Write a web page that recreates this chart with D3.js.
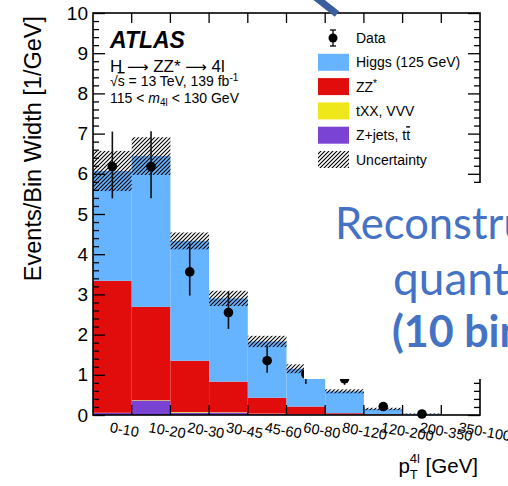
<!DOCTYPE html>
<html>
<head>
<meta charset="utf-8">
<script src="https://cdn.jsdelivr.net/npm/d3@7"></script>
<style>
  body { margin: 0; background: #fff; }
  svg text { font-family: "Liberation Sans", Arial, Helvetica, sans-serif; }
</style>
</head>
<body>
<div id="chart"></div>
<script>
// ---------------- data (per GeV)
var bins   = ["0-10", "10-20", "20-30", "30-45", "45-60", "60-80", "80-120", "120-200", "200-350", "350-1000"];
var zjets  = [0.05, 0.36, 0.06, 0.06, 0.03, 0.02, 0.01, 0.003, 0.001, 0.0];
var txx    = [0.005, 0.01, 0.015, 0.01, 0.005, 0.003, 0.002, 0.001, 0.0, 0.0];
var zz     = [3.285, 2.32, 1.275, 0.76, 0.395, 0.187, 0.033, 0.015, 0.004, 0.001];
var higgs  = [2.73, 3.75, 2.98, 2.07, 1.40, 0.94, 0.545, 0.131, 0.025, 0.002];
var unc    = [0.50, 0.47, 0.21, 0.19, 0.14, 0.11, 0.05, 0.03, 0.006, 0.001];
var obs    = [6.18, 6.18, 3.56, 2.55, 1.35, 1.02, 0.90, 0.21, 0.025, null];
var obsUp  = [0.87, 0.88, 0.71, 0.51, 0.37, 0.26, 0.16, 0.06, 0.02, 0];
var obsDn  = [0.79, 0.79, 0.59, 0.41, 0.30, 0.25, 0.15, 0.05, 0.015, 0];
var yTicks = [0, 1, 2, 3, 4, 5, 6, 7, 8, 9, 10];

var legendItems = [
    { key: "data", label: "Data" },
    { key: "higgs", label: "Higgs (125 GeV)", color: "#66b3ff" },
    { key: "zz", label: "ZZ*", color: "#e10c0c" },
    { key: "txx", label: "tXX, VVV", color: "#eee81a" },
    { key: "zjets", label: "Z+jets, tt", color: "#7a43d3" },
    { key: "unc", label: "Uncertainty" }
];
var colors = { zjets: "#7a43d3", txx: "#eee81a", zz: "#e10c0c", higgs: "#66b3ff" };

var width = 508, height = 486;
var pLeft = 93, pRight = 480, pTop = 13, pBottom = 415;

var svg = d3.select("#chart").append("svg")
    .attr("width", width).attr("height", height);

var defs = svg.append("defs");
defs.append("pattern")
    .attr("id", "hatch")
    .attr("patternUnits", "userSpaceOnUse")
    .attr("width", 4).attr("height", 4)
    .append("path")
    .attr("d", "M-1,1 l2,-2 M0,4 l4,-4 M3,5 l2,-2")
    .attr("stroke", "#000")
    .attr("stroke-width", 1.1);

var x = d3.scaleBand().domain(bins).range([pLeft, pRight]).padding(0);
var y = d3.scaleLinear().domain([0, 10]).range([pBottom, pTop]);

// ---------------- stacked histogram
var table = bins.map(function (b, i) {
    return { bin: b, zjets: zjets[i], txx: txx[i], zz: zz[i], higgs: higgs[i] };
});
var stack = d3.stack().keys(["zjets", "txx", "zz", "higgs"]);
var series = stack(table);

var plot = svg.append("g");

series.forEach(function (s) {
    plot.append("g").selectAll("rect")
        .data(s)
        .join("rect")
        .attr("x", function (d) { return x(d.data.bin); })
        .attr("width", x.bandwidth())
        .attr("y", function (d) { return y(d[1]); })
        .attr("height", function (d) { return Math.max(0, y(d[0]) - y(d[1])); })
        .attr("fill", colors[s.key]);
});

// uncertainty band
var totals = series[series.length - 1].map(function (d) { return d[1]; });
plot.append("g").selectAll("rect")
    .data(bins)
    .join("rect")
    .attr("x", function (d) { return x(d); })
    .attr("width", x.bandwidth())
    .attr("y", function (d, i) { return y(totals[i] + unc[i]); })
    .attr("height", function (d, i) { return y(totals[i] - unc[i]) - y(totals[i] + unc[i]); })
    .attr("fill", "url(#hatch)");

// data points
var pts = bins.map(function (b, i) {
    return { bin: b, v: obs[i], up: obsUp[i], dn: obsDn[i] };
}).filter(function (d) { return d.v !== null; });

plot.append("g").selectAll("line")
    .data(pts)
    .join("line")
    .attr("x1", function (d) { return x(d.bin) + x.bandwidth() / 2; })
    .attr("x2", function (d) { return x(d.bin) + x.bandwidth() / 2; })
    .attr("y1", function (d) { return y(d.v + d.up); })
    .attr("y2", function (d) { return y(d.v - d.dn); })
    .attr("stroke", "#111")
    .attr("stroke-width", 1.6);

plot.append("g").selectAll("circle")
    .data(pts)
    .join("circle")
    .attr("cx", function (d) { return x(d.bin) + x.bandwidth() / 2; })
    .attr("cy", function (d) { return y(d.v); })
    .attr("r", 4.8)
    .attr("fill", "#000");

// ---------------- axes / frame
var edges = bins.slice(1);

var yMinor = d3.range(0, 10.01, 0.2).filter(function (v) { return Math.abs(v - Math.round(v)) > 1e-6; });

function styleTicks(g) {
    g.select(".domain").remove();
    g.selectAll("line").attr("stroke", "#000").attr("stroke-width", 1.3);
}

svg.append("g")
    .attr("transform", "translate(" + pLeft + ",0)")
    .call(d3.axisLeft(y).tickValues(yTicks).tickSizeInner(-12).tickSizeOuter(0).tickPadding(5).tickFormat(d3.format("d")))
    .call(styleTicks)
    .call(function (g) {
        g.selectAll("text").attr("font-size", 19).attr("fill", "#000")
            .attr("font-family", "'Liberation Sans', Arial, sans-serif");
    });
svg.append("g")
    .attr("transform", "translate(" + pLeft + ",0)")
    .call(d3.axisLeft(y).tickValues(yMinor).tickSizeInner(-6).tickSizeOuter(0).tickFormat(""))
    .call(styleTicks);
svg.append("g")
    .attr("transform", "translate(" + pRight + ",0)")
    .call(d3.axisRight(y).tickValues(yTicks).tickSizeInner(-12).tickSizeOuter(0).tickFormat(""))
    .call(styleTicks);
svg.append("g")
    .attr("transform", "translate(" + pRight + ",0)")
    .call(d3.axisRight(y).tickValues(yMinor).tickSizeInner(-6).tickSizeOuter(0).tickFormat(""))
    .call(styleTicks);

// bin edge ticks top and bottom
svg.append("g").selectAll("line")
    .data(edges)
    .join("line")
    .attr("x1", function (d) { return x(d); })
    .attr("x2", function (d) { return x(d); })
    .attr("y1", pBottom).attr("y2", pBottom - 10)
    .attr("stroke", "#000").attr("stroke-width", 1.3);
svg.append("g").selectAll("line")
    .data(edges)
    .join("line")
    .attr("x1", function (d) { return x(d); })
    .attr("x2", function (d) { return x(d); })
    .attr("y1", pTop).attr("y2", pTop + 10)
    .attr("stroke", "#000").attr("stroke-width", 1.3);

svg.append("rect")
    .attr("x", pLeft).attr("y", pTop)
    .attr("width", pRight - pLeft).attr("height", pBottom - pTop)
    .attr("fill", "none").attr("stroke", "#000").attr("stroke-width", 1.6);

// bin labels (rotated)
svg.append("g").selectAll("text")
    .data(bins)
    .join("text")
    .attr("transform", function (d) {
        return "translate(" + (x(d) + x.bandwidth() / 2 - 3) + ",432) rotate(10)";
    })
    .attr("font-size", 14.5)
    .attr("fill", "#000")
    .text(function (d) { return d; });

// axis titles
svg.append("text")
    .attr("transform", "translate(41,16) rotate(-90)")
    .attr("text-anchor", "end")
    .attr("font-size", 23.5)
    .attr("fill", "#000")
    .text("Events/Bin Width [1/GeV]");

var xt = svg.append("text")
    .attr("x", 478).attr("y", 473)
    .attr("text-anchor", "end")
    .attr("font-size", 20.5)
    .attr("fill", "#000");
xt.append("tspan").text("p");
xt.append("tspan").attr("font-size", 13).attr("dy", 6).text("T");
xt.append("tspan").attr("font-size", 13).attr("dx", -8).attr("dy", -16).text("4l");
xt.append("tspan").attr("dy", 10).text(" [GeV]");

// ---------------- ATLAS labels
svg.append("text")
    .attr("x", 110).attr("y", 48)
    .attr("font-size", 23).attr("font-weight", "bold").attr("font-style", "italic")
    .text("ATLAS");
var t1 = svg.append("text").attr("x", 110).attr("y", 72).attr("font-size", 17);
t1.append("tspan").text("H ");
t1.append("tspan").style("font-family", "'DejaVu Sans', sans-serif").attr("font-size", 15).text("\u27F6");
t1.append("tspan").text(" ZZ* ");
t1.append("tspan").style("font-family", "'DejaVu Sans', sans-serif").attr("font-size", 15).text("\u27F6");
t1.append("tspan").text(" 4l");
var t2 = svg.append("text").attr("x", 110).attr("y", 86).attr("font-size", 14);
t2.append("tspan").text("\u221A");
t2.append("tspan").style("text-decoration", "overline").text("s");
t2.append("tspan").text(" = 13 TeV, 139 fb");
t2.append("tspan").attr("font-size", 10).attr("dy", -5).text("-1");
var t3 = svg.append("text").attr("x", 110).attr("y", 103).attr("font-size", 14);
t3.append("tspan").text("115 < ");
t3.append("tspan").attr("font-style", "italic").text("m");
t3.append("tspan").attr("font-size", 10).attr("dy", 3).text("4l");
t3.append("tspan").attr("dy", -3).text(" < 130 GeV");

// ---------------- legend
var leg = svg.append("g");
legendItems.forEach(function (it, i) {
    var cy = 38 + i * 24.3;
    if (it.key === "data") {
        leg.append("line").attr("x1", 333).attr("x2", 333).attr("y1", cy - 8).attr("y2", cy + 8)
            .attr("stroke", "#000").attr("stroke-width", 1.3);
        leg.append("line").attr("x1", 330).attr("x2", 336).attr("y1", cy - 8).attr("y2", cy - 8)
            .attr("stroke", "#000").attr("stroke-width", 1.3);
        leg.append("line").attr("x1", 330).attr("x2", 336).attr("y1", cy + 8).attr("y2", cy + 8)
            .attr("stroke", "#000").attr("stroke-width", 1.3);
        leg.append("circle").attr("cx", 333).attr("cy", cy).attr("r", 4.5).attr("fill", "#000");
    } else {
        leg.append("rect").attr("x", 318).attr("y", cy - 8.5).attr("width", 31).attr("height", 17)
            .attr("fill", it.key === "unc" ? "url(#hatch)" : it.color);
    }
    var t = leg.append("text").attr("x", 356).attr("y", cy + 5).attr("font-size", 14).attr("fill", "#000");
    if (it.key === "zz") {
        t.append("tspan").text("ZZ");
        t.append("tspan").attr("font-size", 10).attr("dy", -5).text("*");
    } else if (it.key === "zjets") {
        t.append("tspan").text("Z+jets, t");
        t.append("tspan").style("text-decoration", "overline").text("t");
    } else {
        t.text(it.label);
    }
});

// ---------------- slide overlay (text box and arrow over the plot)
svg.append("rect")
    .attr("x", 304).attr("y", 183)
    .attr("width", width - 304).attr("height", 196)
    .attr("fill", "#fff");

var ov = svg.append("g").attr("fill", "#4472c4");
ov.append("text").attr("x", 335).attr("y", 239).attr("font-size", 43.5).text("Reconstructed")
    .style("font-family", "Lato, 'Open Sans', sans-serif");
ov.append("text").attr("x", 393).attr("y", 295).attr("font-size", 46).text("quantities")
    .style("font-family", "Lato, 'Open Sans', sans-serif");
ov.append("text").attr("x", 392).attr("y", 347).attr("font-size", 43).attr("font-weight", "bold").text("(10 bins)")
    .style("font-family", "Lato, 'Open Sans', sans-serif");

svg.append("line")
    .attr("x1", 314).attr("y1", -4).attr("x2", 337).attr("y2", 14)
    .attr("stroke", "#3a5d9c").attr("stroke-width", 7);
</script>
</body>
</html>
